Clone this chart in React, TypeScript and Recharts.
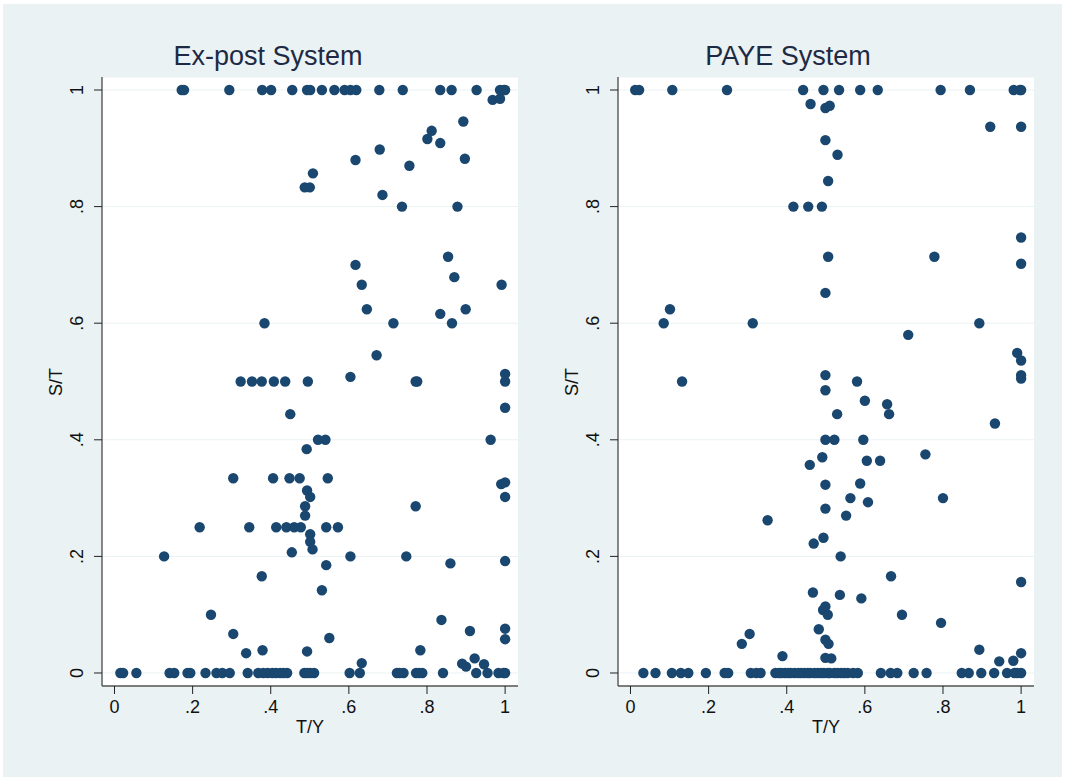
import { ScatterChart, Scatter, XAxis, YAxis, CartesianGrid } from "recharts";

// Ex-post System: T/Y values of points lying at S/T = 0 and S/T = 1
const expostZeroRow = [
  0.015, 0.022, 0.056, 0.141, 0.153, 0.187, 0.194, 0.233, 0.261, 0.276, 0.295,
  0.341, 0.368, 0.381, 0.392, 0.404, 0.413, 0.424, 0.432, 0.442, 0.486, 0.493,
  0.501, 0.511, 0.602, 0.628, 0.723, 0.73, 0.74, 0.772, 0.78, 0.788, 0.841,
  0.926, 0.955, 0.983, 0.996, 1.0,
];
const expostOneRow = [
  0.172, 0.178, 0.294, 0.378, 0.401, 0.455, 0.493, 0.501, 0.531, 0.563, 0.589,
  0.604, 0.619, 0.678, 0.738, 0.834, 0.863, 0.927, 0.987, 0.997, 1.0,
];
// [T/Y, S/T]
const expostOther: [number, number][] = [
  [0.968, 0.983], [0.987, 0.985], [0.893, 0.946], [0.812, 0.93], [0.801, 0.916],
  [0.834, 0.909], [0.679, 0.898], [0.617, 0.88], [0.897, 0.882], [0.755, 0.87],
  [0.508, 0.857], [0.487, 0.833], [0.5, 0.833], [0.686, 0.82], [0.736, 0.8],
  [0.878, 0.8], [0.854, 0.714], [0.617, 0.7], [0.87, 0.679], [0.633, 0.666],
  [0.991, 0.666], [0.646, 0.624], [0.834, 0.616], [0.899, 0.624], [0.384, 0.6],
  [0.714, 0.6], [0.864, 0.6], [0.671, 0.545], [0.604, 0.508], [1.0, 0.513],
  [0.323, 0.5], [0.352, 0.5], [0.377, 0.5], [0.408, 0.5], [0.437, 0.5],
  [0.495, 0.5], [0.771, 0.5], [0.775, 0.5], [1.0, 0.5], [0.45, 0.444],
  [1.0, 0.455], [0.521, 0.4], [0.54, 0.4], [0.963, 0.4], [0.492, 0.384],
  [0.304, 0.334], [0.406, 0.334], [0.448, 0.334], [0.474, 0.334], [0.546, 0.334],
  [0.99, 0.324], [1.0, 0.327], [0.493, 0.313], [0.501, 0.302], [1.0, 0.302],
  [0.488, 0.286], [0.771, 0.286], [0.488, 0.27], [0.218, 0.25], [0.345, 0.25],
  [0.414, 0.25], [0.44, 0.25], [0.46, 0.25], [0.477, 0.25], [0.542, 0.25],
  [0.572, 0.25], [0.501, 0.238], [0.501, 0.225], [0.507, 0.212], [0.454, 0.207],
  [0.127, 0.2], [0.604, 0.2], [0.747, 0.2], [1.0, 0.192], [0.542, 0.185],
  [0.86, 0.188], [0.377, 0.166], [0.531, 0.142], [0.247, 0.1], [0.837, 0.091],
  [0.91, 0.072], [1.0, 0.076], [0.304, 0.067], [0.55, 0.06], [1.0, 0.058],
  [0.337, 0.034], [0.379, 0.039], [0.493, 0.037], [0.783, 0.039], [0.633, 0.017],
  [0.89, 0.016], [0.9, 0.011], [0.922, 0.025], [0.946, 0.015],
];

// PAYE System
const payeZeroRow = [
  0.033, 0.064, 0.106, 0.129, 0.148, 0.193, 0.241, 0.25, 0.308, 0.322, 0.333,
  0.371, 0.38, 0.386, 0.395, 0.403, 0.41, 0.42, 0.43, 0.437, 0.445, 0.454,
  0.46, 0.471, 0.48, 0.488, 0.495, 0.505, 0.51, 0.522, 0.53, 0.539, 0.547,
  0.556, 0.57, 0.582, 0.641, 0.666, 0.683, 0.725, 0.758, 0.848, 0.866, 0.898,
  0.931, 0.964, 0.983, 0.99, 1.0,
];
const payeOneRow = [
  0.012, 0.022, 0.107, 0.247, 0.442, 0.494, 0.534, 0.588, 0.633, 0.794, 0.869,
  0.981, 0.997, 1.0,
];
const payeOther: [number, number][] = [
  [0.461, 0.976], [0.499, 0.969], [0.51, 0.973], [0.921, 0.937], [1.0, 0.937],
  [0.499, 0.914], [0.53, 0.889], [0.506, 0.844], [0.417, 0.8], [0.455, 0.8],
  [0.49, 0.8], [1.0, 0.747], [0.506, 0.714], [0.778, 0.714], [1.0, 0.702],
  [0.499, 0.652], [0.101, 0.624], [0.085, 0.6], [0.313, 0.6], [0.893, 0.6],
  [0.711, 0.58], [0.99, 0.549], [1.0, 0.536], [1.0, 0.511], [1.0, 0.505],
  [0.132, 0.5], [0.58, 0.5], [0.499, 0.511], [0.499, 0.485], [0.6, 0.467],
  [0.657, 0.461], [0.662, 0.444], [0.529, 0.444], [0.933, 0.428], [0.499, 0.4],
  [0.522, 0.4], [0.596, 0.4], [0.491, 0.37], [0.459, 0.357], [0.605, 0.364],
  [0.639, 0.364], [0.755, 0.375], [0.499, 0.323], [0.588, 0.325], [0.563, 0.3],
  [0.608, 0.293], [0.8, 0.3], [0.499, 0.282], [0.552, 0.27], [0.351, 0.262],
  [0.494, 0.232], [0.469, 0.222], [0.538, 0.2], [0.667, 0.166], [1.0, 0.156],
  [0.467, 0.138], [0.536, 0.134], [0.591, 0.128], [0.499, 0.114], [0.493, 0.108],
  [0.505, 0.1], [0.695, 0.1], [0.795, 0.086], [0.482, 0.075], [0.305, 0.067],
  [0.285, 0.05], [0.499, 0.057], [0.507, 0.05], [0.389, 0.029], [0.499, 0.026],
  [0.514, 0.025], [0.893, 0.04], [0.944, 0.02], [0.98, 0.021], [1.0, 0.034],
];

const TICKS = [0, 0.2, 0.4, 0.6, 0.8, 1];

const NAVY = "#1A476F";
const BG = "#EAF2F3";
const FONT = "'Liberation Sans', Arial, Helvetica, sans-serif";

function toRows(zero: number[], one: number[], other: [number, number][]) {
  return [
    ...zero.map((x) => ({ x, y: 0 })),
    ...one.map((x) => ({ x, y: 1 })),
    ...other.map(([x, y]) => ({ x, y })),
  ];
}

// stata style labels: 0 .2 .4 ... 1
function fmt(v: number): string {
  if (v === 0) return "0";
  if (v === 1) return "1";
  return v.toFixed(1).replace(/^0/, "");
}

function XTick({ x, y, payload }: any) {
  return (
    <text x={x} y={y} dy="0.71em" textAnchor="middle" fontSize={18} fontFamily={FONT} fill="#111">
      {fmt(payload.value)}
    </text>
  );
}

function YTick({ x, y, payload }: any) {
  return (
    <text
      x={x}
      y={y}
      textAnchor="middle"
      transform={`rotate(-90 ${x} ${y})`}
      fontSize={18}
      fontFamily={FONT}
      fill="#111"
    >
      {fmt(payload.value)}
    </text>
  );
}

const Dot = (p: any) => <circle cx={p.cx} cy={p.cy} r={5.2} fill={NAVY} />;

function Panel({
  left,
  width,
  marginLeft,
  title,
  titleX,
  rows,
}: {
  left: number;
  width: number;
  marginLeft: number;
  title: string;
  titleX: number;
  rows: { x: number; y: number }[];
}) {
  const plotLeft = marginLeft + 40;
  const plotCenter = plotLeft + 208;
  return (
    <div style={{ position: "absolute", left, top: 0, width, height: 781 }}>
      <div
        style={{
          position: "absolute",
          left: titleX - left - 200,
          width: 400,
          top: 43,
          fontSize: 27,
          lineHeight: "27px",
          textAlign: "center",
          fontFamily: FONT,
          color: "#1e2a44",
        }}
      >
        {title}
      </div>
      <ScatterChart
        width={width}
        height={781}
        margin={{ top: 77, right: width - plotLeft - 416, bottom: 55, left: marginLeft }}
      >
        <CartesianGrid vertical={false} stroke={BG} strokeWidth={1} fill="#ffffff" />
        <XAxis
          type="number"
          dataKey="x"
          domain={[-0.032, 1.033]}
          ticks={TICKS}
          interval={0}
          height={40}
          tickSize={8}
          tickMargin={6}
          tick={<XTick />}
          axisLine={{ stroke: "#555", strokeWidth: 1.4 }}
          tickLine={{ stroke: "#222" }}
        />
        <YAxis
          type="number"
          dataKey="y"
          domain={[-0.0223, 1.0223]}
          ticks={TICKS}
          interval={0}
          width={40}
          tickSize={8}
          tickMargin={11}
          tick={<YTick />}
          axisLine={{ stroke: "#555", strokeWidth: 1.4 }}
          tickLine={{ stroke: "#222" }}
        />
        <Scatter data={rows} shape={Dot} isAnimationActive={false} />
      </ScatterChart>
      <div
        style={{
          position: "absolute",
          left: plotCenter - 40,
          width: 80,
          top: 718,
          fontSize: 18,
          lineHeight: "18px",
          textAlign: "center",
          fontFamily: FONT,
          color: "#111",
        }}
      >
        T/Y
      </div>
      <div
        style={{
          position: "absolute",
          left: plotLeft - 46 - 30,
          width: 60,
          top: 381.5 - 9,
          fontSize: 18,
          lineHeight: "18px",
          textAlign: "center",
          fontFamily: FONT,
          color: "#111",
          transform: "rotate(-90deg)",
        }}
      >
        S/T
      </div>
    </div>
  );
}

export default function App() {
  return (
    <div
      style={{
        position: "fixed",
        left: 0,
        top: 0,
        width: 1065,
        height: 781,
        background: "#ffffff",
        overflow: "hidden",
      }}
    >
      <div style={{ position: "absolute", left: 3, top: 4, width: 1059, height: 773, background: BG }} />
      <Panel
        left={0}
        width={530}
        marginLeft={62}
        title="Ex-post System"
        titleX={268}
        rows={toRows(expostZeroRow, expostOneRow, expostOther)}
      />
      <Panel
        left={530}
        width={535}
        marginLeft={48}
        title="PAYE System"
        titleX={788}
        rows={toRows(payeZeroRow, payeOneRow, payeOther)}
      />
    </div>
  );
}
